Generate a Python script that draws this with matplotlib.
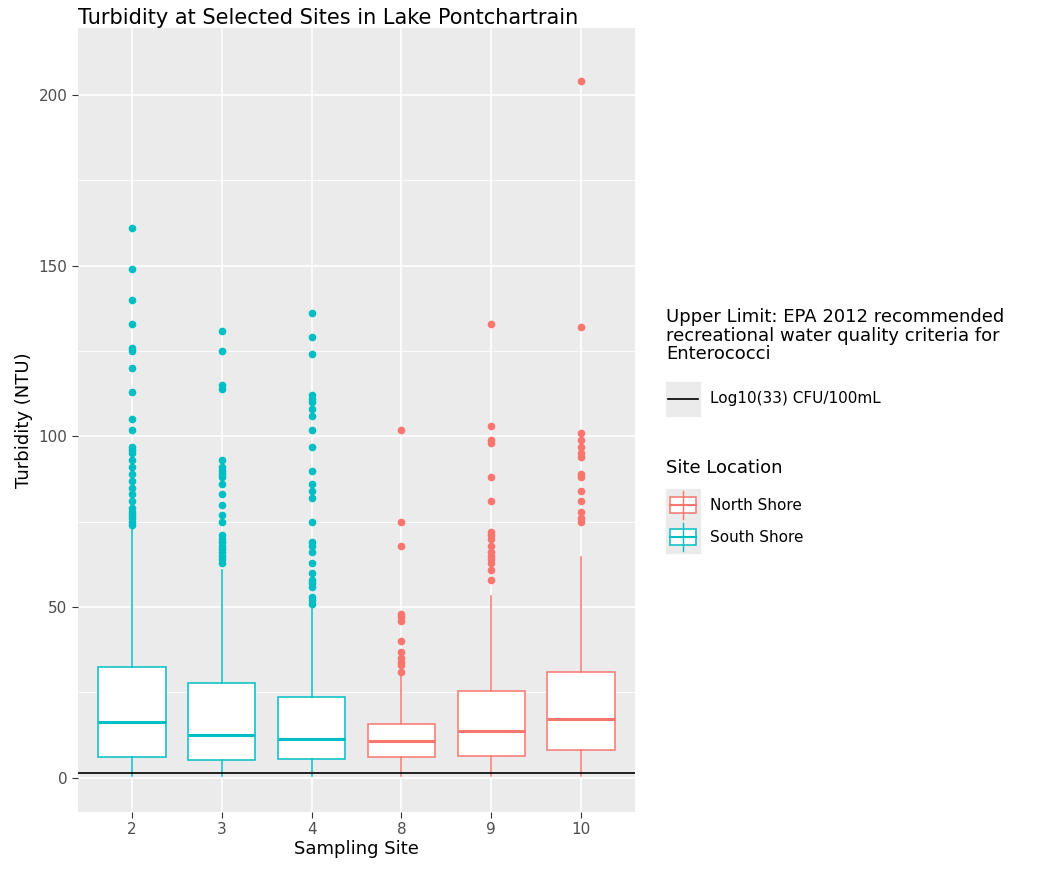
import matplotlib.pyplot as plt
from matplotlib.patches import Rectangle
from matplotlib.lines import Line2D
import numpy as np

sites = ["2", "3", "4", "8", "9", "10"]
shore = ["South", "South", "South", "North", "North", "North"]
q1 = [6.1, 5.3, 5.6, 6.1, 6.4, 8.2]
med = [16.4, 12.6, 11.4, 10.8, 13.8, 17.3]
q3 = [32.5, 27.8, 23.7, 15.8, 25.5, 31.0]
whislo = [0.5, 0.5, 0.5, 0.5, 0.5, 0.5]
whishi = [72.9, 61.0, 51.0, 30.0, 53.3, 64.7]
fliers = [
    [161, 149, 140, 133, 126, 125, 120, 113, 105, 102, 97, 96, 95, 93, 91, 89, 87, 85, 83, 81, 79, 78, 77, 76, 75, 74],
    [131, 125, 115, 114, 93, 91, 90, 89, 88, 86, 83, 80, 77, 75, 71, 70, 69, 68, 67, 66, 65, 64, 63],
    [136, 129, 124, 112, 111, 110, 108, 106, 102, 97, 90, 86, 84, 82, 75, 69, 68, 66, 63, 60, 58, 57, 56, 53, 52, 51],
    [102, 75, 68, 48, 47, 46, 40, 37, 35, 34, 33, 31],
    [133, 103, 99, 98, 88, 81, 72, 71, 70, 68, 66, 65, 64, 63, 61, 58],
    [204, 132, 101, 99, 97, 95, 94, 89, 88, 84, 81, 78, 76, 75],
]
epa_limit = np.log10(33)

colors = {"North": "#F8766D", "South": "#00BFC4"}

fig = plt.figure(figsize=(10.45, 8.75), dpi=100)
ax = fig.add_axes([0.0746, 0.072, 0.5331, 0.896])
ax.set_facecolor("#EBEBEB")

for i in range(len(sites)):
    c = colors[shore[i]]
    st = [dict(q1=q1[i], med=med[i], q3=q3[i], whislo=whislo[i], whishi=whishi[i], fliers=fliers[i])]
    ax.bxp(st, positions=[i + 1], widths=0.75, showcaps=False, patch_artist=True,
           boxprops=dict(facecolor="white", edgecolor=c, linewidth=1.1),
           medianprops=dict(color=c, linewidth=2.2),
           whiskerprops=dict(color=c, linewidth=1.1),
           flierprops=dict(marker="o", markerfacecolor=c, markeredgecolor=c, markersize=4.5),
           zorder=3)

ax.axhline(epa_limit, color="black", linewidth=1.2, zorder=4)
ax.set_xlim(0.4, 6.6)
ax.set_ylim(-10, 219.6)
ax.set_xticks(range(1, 7))
ax.set_xticklabels(sites)
ax.set_yticks([0, 50, 100, 150, 200])
ax.set_yticks([25, 75, 125, 175], minor=True)
ax.grid(True, which="major", color="white", linewidth=1.2, zorder=0)
ax.grid(True, which="minor", color="white", linewidth=0.6, zorder=0)
ax.set_axisbelow(True)
for s in ax.spines.values():
    s.set_visible(False)
ax.tick_params(which="both", length=4, color="#333333", labelsize=11, labelcolor="#4D4D4D")
ax.tick_params(which="minor", length=0)
ax.set_xlabel("Sampling Site", fontsize=13, labelpad=2)
ax.set_ylabel("Turbidity (NTU)", fontsize=13)
ax.set_title("Turbidity at Selected Sites in Lake Pontchartrain", fontsize=15, loc="left", pad=2)

# legends
W, H = 1045, 875
def fx(px): return px / W
def fy(py): return 1 - py / H

fig.text(fx(666), fy(308), "Upper Limit: EPA 2012 recommended\nrecreational water quality criteria for\nEnterococci",
         fontsize=13, va="top", linespacing=1.05)
fig.add_artist(Rectangle((fx(666), fy(416)), fx(34), 34 / H, transform=fig.transFigure, color="#EBEBEB"))
fig.add_artist(Line2D([fx(668), fx(698)], [fy(399)] * 2, transform=fig.transFigure, color="black", lw=1.2))
fig.text(fx(710), fy(399), "Log10(33) CFU/100mL", fontsize=11, va="center")

fig.text(fx(666), fy(468), "Site Location", fontsize=13, va="center")
for k, (lab, key) in enumerate([("North Shore", "North"), ("South Shore", "South")]):
    cy = 505 + k * 32
    c = colors[key]
    fig.add_artist(Rectangle((fx(666), fy(cy + 16)), fx(34), 32 / H, transform=fig.transFigure, color="#EBEBEB"))
    fig.add_artist(Line2D([fx(683)] * 2, [fy(cy - 14), fy(cy + 14)], transform=fig.transFigure, color=c, lw=1))
    fig.add_artist(Rectangle((fx(670), fy(cy + 8)), fx(26), 16 / H, transform=fig.transFigure,
                             facecolor="white", edgecolor=c, lw=1.1))
    fig.add_artist(Line2D([fx(670), fx(696)], [fy(cy)] * 2, transform=fig.transFigure, color=c, lw=1.5))
    fig.text(fx(710), fy(cy), lab, fontsize=11, va="center")

fig.savefig("out.png", dpi=100)
